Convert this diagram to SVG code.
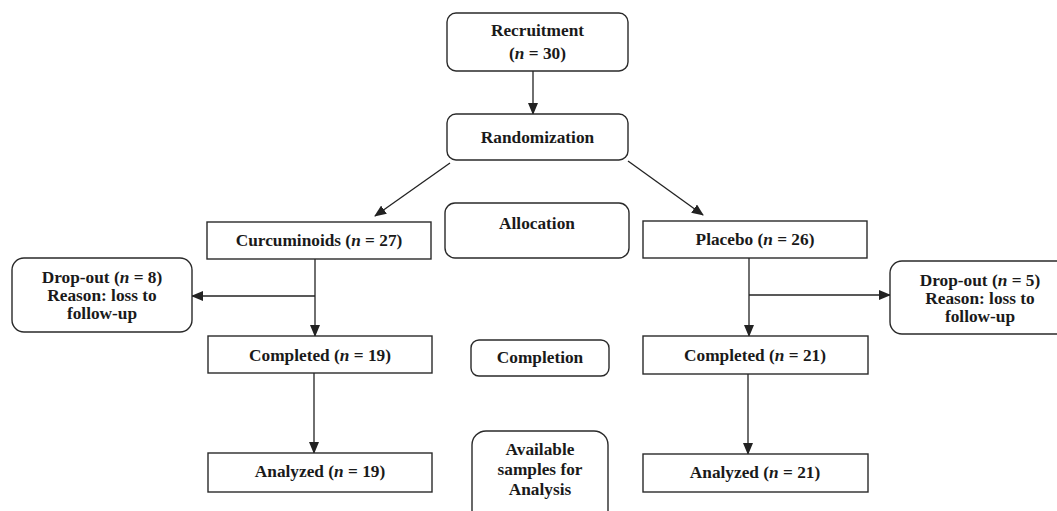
<svg xmlns="http://www.w3.org/2000/svg" width="1057" height="511" viewBox="0 0 1057 511">
<defs>
<style>
.box{fill:#fff;stroke:#2a2a2a;stroke-width:1.4}
.t{font-family:"Liberation Serif","Times New Roman",serif;font-weight:bold;font-size:17.3px;fill:#1a1a1a;text-anchor:middle}
.i{font-style:italic}
.c{stroke:#222;stroke-width:1.3;fill:none;marker-end:url(#ah)}
</style>
<marker id="ah" markerWidth="12" markerHeight="10" refX="11" refY="5" orient="auto" markerUnits="userSpaceOnUse">
<path d="M0,0 L12,5 L0,10 Z" fill="#222"/>
</marker>
</defs>
<rect width="1057" height="511" fill="#fff"/>
<g id="connectors">
<line class="c" x1="533" y1="71" x2="533" y2="114"/>
<line class="c" x1="450" y1="163" x2="375" y2="216"/>
<line class="c" x1="628" y1="161" x2="703" y2="215"/>
<line class="c" x1="315" y1="259" x2="315" y2="336"/>
<line class="c" x1="315" y1="296" x2="192" y2="296"/>
<line class="c" x1="749" y1="258" x2="749" y2="336"/>
<line class="c" x1="749" y1="295" x2="890" y2="295"/>
<line class="c" x1="314" y1="373" x2="314" y2="453"/>
<line class="c" x1="748" y1="374" x2="748" y2="454"/>
</g>
<g id="recruitment"><rect class="box" x="447" y="13" width="181" height="58" rx="9"/>
<text class="t" x="537.5" y="36">Recruitment</text>
<text class="t" x="537.5" y="59">(<tspan class="i">n</tspan> = 30)</text></g>
<g id="randomization"><rect class="box" x="447" y="114" width="181" height="46" rx="9"/>
<text class="t" x="537.5" y="143">Randomization</text></g>
<g id="allocation"><rect class="box" x="445" y="203" width="184" height="55" rx="10"/>
<text class="t" x="537" y="229">Allocation</text></g>
<g id="curcuminoids"><rect class="box" x="207" y="222" width="224" height="37"/>
<text class="t" x="319" y="246">Curcuminoids (<tspan class="i">n</tspan> = 27)</text></g>
<g id="placebo"><rect class="box" x="643" y="221" width="224" height="37"/>
<text class="t" x="755" y="245">Placebo (<tspan class="i">n</tspan> = 26)</text></g>
<g id="dropout-left"><rect class="box" x="12" y="258" width="180" height="74" rx="12"/>
<text class="t" x="102" y="283">Drop-out (<tspan class="i">n</tspan> = 8)</text>
<text class="t" x="102" y="301">Reason: loss to</text>
<text class="t" x="102" y="319">follow-up</text></g>
<g id="dropout-right"><rect class="box" x="890" y="261" width="182" height="73" rx="12"/>
<text class="t" x="980" y="286">Drop-out (<tspan class="i">n</tspan> = 5)</text>
<text class="t" x="980" y="304">Reason: loss to</text>
<text class="t" x="980" y="322">follow-up</text></g>
<g id="completed-left"><rect class="box" x="208" y="336" width="224" height="37"/>
<text class="t" x="320" y="361">Completed (<tspan class="i">n</tspan> = 19)</text></g>
<g id="completion"><rect class="box" x="471" y="340" width="138" height="36" rx="8"/>
<text class="t" x="540" y="363">Completion</text></g>
<g id="completed-right"><rect class="box" x="643" y="336" width="225" height="38"/>
<text class="t" x="755" y="361">Completed (<tspan class="i">n</tspan> = 21)</text></g>
<g id="analyzed-left"><rect class="box" x="208" y="453" width="224" height="39"/>
<text class="t" x="320" y="477">Analyzed (<tspan class="i">n</tspan> = 19)</text></g>
<g id="available"><rect class="box" x="472" y="431" width="136" height="95" rx="14"/>
<text class="t" x="540" y="455">Available</text>
<text class="t" x="540" y="475">samples for</text>
<text class="t" x="540" y="495">Analysis</text></g>
<g id="analyzed-right"><rect class="box" x="643" y="454" width="225" height="38"/>
<text class="t" x="755" y="478">Analyzed (<tspan class="i">n</tspan> = 21)</text></g>
</svg>
